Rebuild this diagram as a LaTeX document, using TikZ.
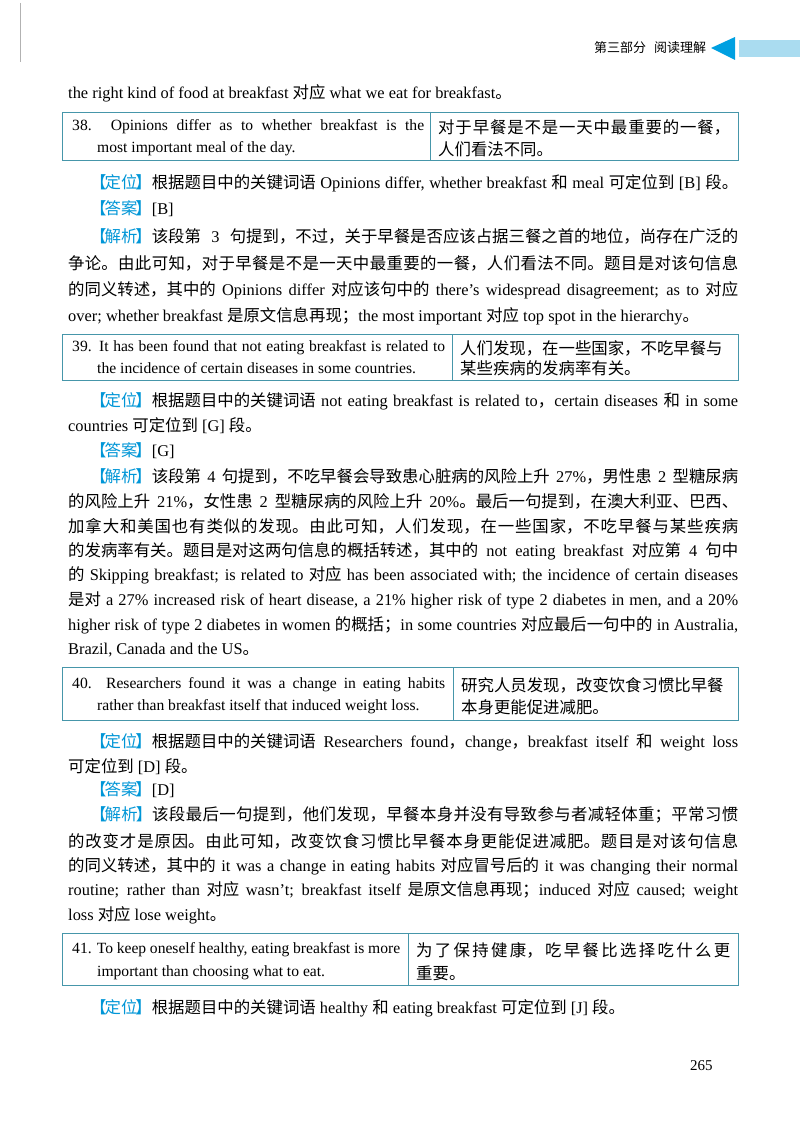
\documentclass[tikz,border=0pt]{standalone}
\usepackage{fontspec}
\setmainfont{Liberation Serif}
\newfontfamily\cjk[Scale=1.0]{Noto Sans CJK SC}
\newfontfamily\cjkhdr{Noto Sans CJK SC}
\XeTeXlinebreaklocale "zh"
\XeTeXlinebreakskip=0pt plus 3pt
\newcommand\zh[1]{{\cjk #1}}
\newcommand\jl[2]{\makebox[#1][s]{#2}}
\newcommand\jp[2]{\parbox{#1}{\parfillskip=0pt\cjk #2\par}}
\definecolor{lblblue}{RGB}{0,150,215}
\definecolor{boxblue}{RGB}{70,150,170}
\definecolor{tabblue}{RGB}{170,220,240}
\definecolor{arrblue}{RGB}{0,160,225}
\newcommand\lbl[1]{{\cjk\color{lblblue}【\kern-2pt#1\kern-2pt】}}
\begin{document}
\begin{tikzpicture}[x=1pt,y=-1pt,
  every node/.style={font=\fontsize{16.4}{18}\selectfont, inner sep=0pt},
  ll/.style={anchor=west},
  qt/.style={anchor=west, font=\fontsize{15.6}{18}\selectfont},
  qbox/.style={draw=boxblue, line width=0.8pt}]
\useasboundingbox (0,0) rectangle (800,1131);
\fill[white] (0,0) rectangle (800,1131);
\draw[gray!60, line width=1pt] (20,3) -- (20,62);
% header
\node[ll, font=\fontsize{13}{15}\selectfont\cjkhdr] (hdr) at (594,48) {第三部分\hspace{8pt}阅读理解};
\fill[arrblue] (711,48) -- (735,37) -- (735,60) -- cycle;
\fill[tabblue] (739,40) rectangle (800,57);
% first line
\node[ll] (l0) at (68,93) {the right kind of food at breakfast \zh{对应} what we eat for breakfast\zh{。}};
% box 38
\draw[qbox] (62,112) rectangle (738,160);
\draw[qbox] (430,112) -- (430,160);
\node[qt] (q38a) at (72,127) {\jl{352pt}{38. Opinions differ as to whether breakfast is the}};
\node[qt] (q38b) at (97,149) {most important meal of the day.};
\node[ll] (q38c) at (438,127) {\jp{292pt}{对于早餐是不是一天中最重要的一餐，}};
\node[ll] (q38d) at (438,149) {\zh{人们看法不同。}};
% 38 analysis
\node[ll] (a1) at (90,183) {\jl{648pt}{\lbl{定位}\zh{根据题目中的关键词语} Opinions differ, whether breakfast \zh{和} meal \zh{可定位到} [B] \zh{段。}}};
\node[ll] (a2) at (90,209) {\lbl{答案}[B]};
\node[ll] (a3) at (90,236) {\jl{648pt}{\lbl{解析}\zh{该段第} 3 \zh{句提到，不过，关于早餐是否应该占据三餐之首的地位，尚存在广泛的}}};
\node[ll] (a4) at (68,263) {\jp{670pt}{争论。由此可知，对于早餐是不是一天中最重要的一餐，人们看法不同。题目是对该句信息}};
\node[ll] (a5) at (68,290) {\jl{670pt}{\zh{的同义转述，其中的} Opinions differ \zh{对应该句中的} there’s widespread disagreement; as to \zh{对应}}};
\node[ll] (a6) at (68,316) {over; whether breakfast \zh{是原文信息再现；}the most important \zh{对应} top spot in the hierarchy\zh{。}};
% box 39
\draw[qbox] (62,334) rectangle (738,380);
\draw[qbox] (452,334) -- (452,380);
\node[qt] (q39a) at (72,348) {\jl{373pt}{39. It has been found that not eating breakfast is related to}};
\node[qt] (q39b) at (97,368) {the incidence of certain diseases in some countries.};
\node[ll] (q39c) at (460,348) {\zh{人们发现，在一些国家，不吃早餐与}};
\node[ll] (q39d) at (460,368) {\zh{某些疾病的发病率有关。}};
% 39 analysis
\node[ll] (b1) at (90,401) {\jl{648pt}{\lbl{定位}\zh{根据题目中的关键词语} not eating breakfast is related to\zh{，}certain diseases \zh{和} in some}};
\node[ll] (b2) at (68,426) {countries \zh{可定位到} [G] \zh{段。}};
\node[ll] (b3) at (90,451) {\lbl{答案}[G]};
\node[ll] (b4) at (90,476) {\jl{648pt}{\lbl{解析}\zh{该段第} 4 \zh{句提到，不吃早餐会导致患心脏病的风险上升} 27\%\zh{，男性患} 2 \zh{型糖尿病}}};
\node[ll] (b5) at (68,501) {\jl{670pt}{\zh{的风险上升} 21\%\zh{，女性患} 2 \zh{型糖尿病的风险上升} 20\%\zh{。最后一句提到，在澳大利亚、巴西、}}};
\node[ll] (b6) at (68,526) {\jp{670pt}{加拿大和美国也有类似的发现。由此可知，人们发现，在一些国家，不吃早餐与某些疾病}};
\node[ll] (b7) at (68,551) {\jl{670pt}{\zh{的发病率有关。题目是对这两句信息的概括转述，其中的} not eating breakfast \zh{对应第} 4 \zh{句中}}};
\node[ll] (b8) at (68,575) {\jl{670pt}{\zh{的} Skipping breakfast; is related to \zh{对应} has been associated with; the incidence of certain diseases}};
\node[ll] (b9) at (68,600) {\jl{670pt}{\zh{是对} a 27\% increased risk of heart disease, a 21\% higher risk of type 2 diabetes in men, and a 20\%}};
\node[ll] (b10) at (68,625) {\jl{670pt}{higher risk of type 2 diabetes in women \zh{的概括；}in some countries \zh{对应最后一句中的} in Australia,}};
\node[ll] (b11) at (68,650) {Brazil, Canada and the US\zh{。}};
% box 40
\draw[qbox] (62,667) rectangle (738,720);
\draw[qbox] (453,667) -- (453,720);
\node[qt] (q40a) at (72,685) {\jl{373pt}{40. Researchers found it was a change in eating habits}};
\node[qt] (q40b) at (97,707) {rather than breakfast itself that induced weight loss.};
\node[ll] (q40c) at (461,685) {\zh{研究人员发现，改变饮食习惯比早餐}};
\node[ll] (q40d) at (461,707) {\zh{本身更能促进减肥。}};
% 40 analysis
\node[ll] (c1) at (90,742) {\jl{648pt}{\lbl{定位}\zh{根据题目中的关键词语} Researchers found\zh{，}change\zh{，}breakfast itself \zh{和} weight loss}};
\node[ll] (c2) at (68,767) {\zh{可定位到} [D] \zh{段。}};
\node[ll] (c3) at (90,790) {\lbl{答案}[D]};
\node[ll] (c4) at (90,815) {\jp{648pt}{{\color{lblblue}【\kern-2pt解析\kern-2pt】}该段最后一句提到，他们发现，早餐本身并没有导致参与者减轻体重；平常习惯}};
\node[ll] (c5) at (68,841) {\jp{670pt}{的改变才是原因。由此可知，改变饮食习惯比早餐本身更能促进减肥。题目是对该句信息}};
\node[ll] (c6) at (68,866) {\jl{670pt}{\zh{的同义转述，其中的} it was a change in eating habits \zh{对应冒号后的} it was changing their normal}};
\node[ll] (c7) at (68,890) {\jl{670pt}{routine; rather than \zh{对应} wasn’t; breakfast itself \zh{是原文信息再现；}induced \zh{对应} caused; weight}};
\node[ll] (c8) at (68,915) {loss \zh{对应} lose weight\zh{。}};
% box 41
\draw[qbox] (62,933) rectangle (738,985);
\draw[qbox] (408,933) -- (408,985);
\node[qt] (q41a) at (72,950) {\jl{328pt}{41. To keep oneself healthy, eating breakfast is more}};
\node[qt] (q41b) at (97,973) {important than choosing what to eat.};
\node[ll] (q41c) at (416,950) {\jp{314pt}{为了保持健康，吃早餐比选择吃什么更}};
\node[ll] (q41d) at (416,973) {\zh{重要。}};
% 41 analysis
\node[ll] (d1) at (90,1008) {\lbl{定位}\zh{根据题目中的关键词语} healthy \zh{和} eating breakfast \zh{可定位到} [J] \zh{段。}};
% page number
\node[ll, font=\fontsize{15}{17}\selectfont] (pg) at (690,1066) {265};
\end{tikzpicture}
\end{document}
